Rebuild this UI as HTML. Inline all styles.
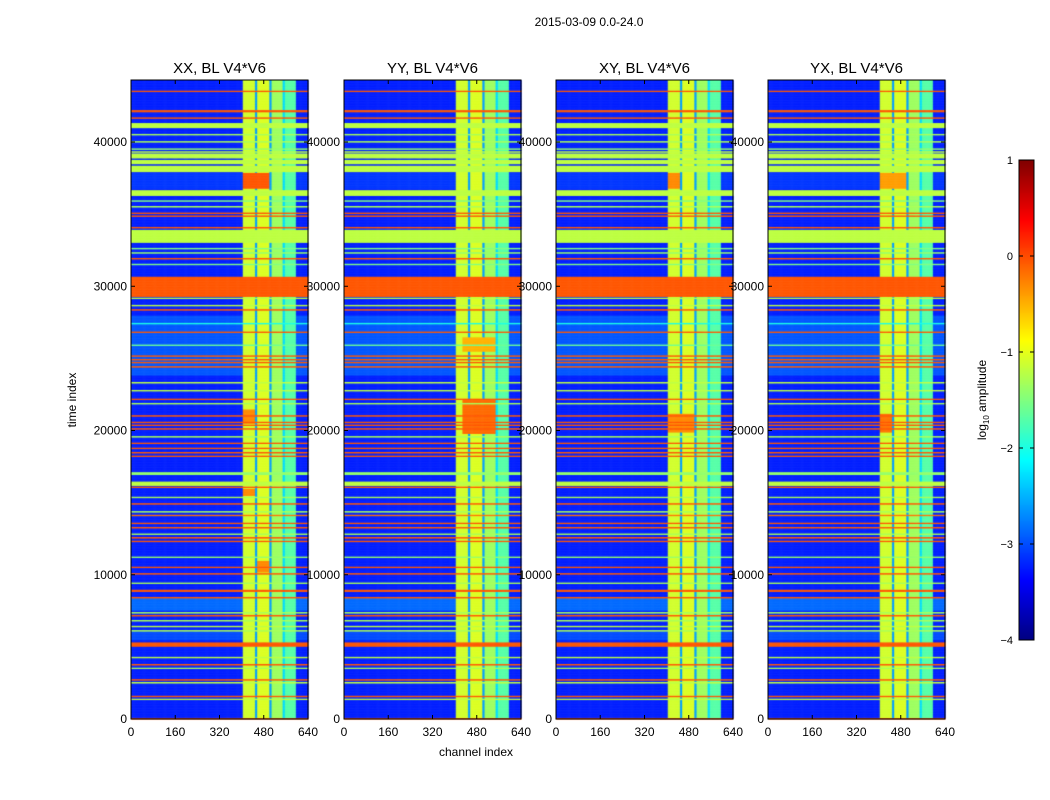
<!DOCTYPE html>
<html><head><meta charset="utf-8">
<style>
body{margin:0;background:#fff;font-family:"Liberation Sans",sans-serif;}
#wrap{position:relative;width:1050px;height:800px;overflow:hidden;background:#fff}
canvas{position:absolute}
svg{position:absolute;left:0;top:0}
text{font-family:"Liberation Sans",sans-serif;fill:#000}
</style></head><body>
<div id="wrap">
<canvas id="c" width="1050" height="800" style="left:0;top:0"></canvas>
<svg id="s" width="1050" height="800"></svg>
</div>
<script>
// ---- data ----
const panelTitles = ["XX, BL V4*V6","YY, BL V4*V6","XY, BL V4*V6","YX, BL V4*V6"];
const xTicks = [0,160,320,480,640];
const yTicks = [0,10000,20000,30000,40000];
const cbTicks = [1,0,-1,-2,-3,-4];
const tMax = 44300, chMax = 640;
// horizontal stripes: [tStart, tEnd, log10 amplitude]
const stripes = [
[43480,43600,-0.05],[42110,42230,-0.05],[41640,41760,-0.05],[41000,41340,-1.2],
[40500,40580,-1.3],[40000,40080,-1.3],[39500,39580,-1.4],[39300,39380,-1.2],
[38900,39250,-1.2],[38500,38820,-1.2],[37950,38400,-1.2],
[36300,36700,-1.2],[35900,35980,-1.5],[35500,35580,-1.3],[35060,35160,-0.05],[34860,34960,-0.05],
[34040,34160,-0.05],[33070,33970,-1.2],[32600,32680,-1.5],[32300,32380,-1.4],[31900,32020,-0.05],[31500,31580,-1.5],
[29320,30700,-0.05],[29140,29230,-1.2],[28650,28750,-1.2],[28370,28470,-0.05],
[27400,27500,-2.0],[26780,26880,-0.05],[25900,25980,-1.6],[25150,25250,-0.05],[24920,25020,-0.05],[24680,24780,-0.05],[24420,24520,-0.05],
[23310,23410,-1.2],[22750,22850,-1.2],[22130,22230,-0.05],
[21850,21950,-1.3],[21020,21120,-0.05],[20550,20650,-0.05],[20330,20430,-0.05],[20100,20200,-0.05],[19570,19670,-1.3],
[19080,19180,-0.05],[18740,18840,-0.05],[18450,18550,-0.05],[18180,18280,-0.05],[17070,17170,-1.4],[16930,17030,-1.4],
[16220,16500,-1.2],[16030,16130,-0.05],[15340,15440,-1.3],[14920,15020,-0.05],[14370,14470,-1.3],[14090,14190,-0.2],
[13540,13640,-0.05],[13260,13360,-0.05],[12780,12880,-1.3],[12570,12670,-0.05],[12290,12390,-0.05],[11180,11280,-1.4],
[10490,10590,-0.05],[10070,10170,-0.05],[9380,9480,-1.3],[8870,9010,-0.05],[8410,8510,-0.05],[7370,7470,-1.3],[7160,7260,-0.05],
[6810,6910,-1.3],[6400,6500,-1.2],[6120,6220,-1.3],[5060,5340,-0.05],[4250,4350,-1.2],[3760,3860,-0.05],[3490,3590,-1.3],
[2720,2820,-0.05],[2510,2610,-1.2],[1540,1640,-0.05],[1340,1440,-1.2],[0,120,-0.05]
];
// background regions: [tStart, tEnd, level]
const bgRegions = [[23850,28000,-2.95],[7560,8460,-2.85],[5500,6100,-3.0],[36800,37900,-3.1]];
const bgDefault = -3.22;
// band column segments: [chStart, chEnd, level]
const colSegments = [[405,448,-1.1],[448,456,-2.6],[456,502,-1.05],[502,510,-2.6],[510,550,-1.35],[550,558,-2.3],[558,597,-1.7]];
// hotspots: [panel, tStart, tEnd, chStart, chEnd, level]
const hotspots = [
[0,36800,37900,405,502,-0.05],[0,10200,11000,456,502,-0.3],[0,20500,21500,405,448,-0.3],[0,15500,16000,405,448,-0.3],
[1,19800,22200,430,550,-0.15],[1,25500,26500,430,550,-0.5],
[2,19900,21200,405,502,-0.3],[2,36800,37900,405,448,-0.3],
[3,19900,21200,405,448,-0.2],[3,36800,37900,405,502,-0.4]
];
// ---- layout ----
const panelX = [131,344,556,768], pW = 177, pTop = 80, pBot = 719;
const tToY = t => pBot - (t/tMax)*(pBot-pTop);
const chToX = (p,ch) => panelX[p] + ch/chMax*pW;

function jet(v){
  let f=(v+4)/5; f=Math.max(0,Math.min(1,f));
  const cl=x=>Math.max(0,Math.min(1,x));
  const r=cl(1.5-Math.abs(4*f-3)), g=cl(1.5-Math.abs(4*f-2)), b=cl(1.5-Math.abs(4*f-1));
  return `rgb(${Math.round(r*255)},${Math.round(g*255)},${Math.round(b*255)})`;
}
function value(p,t,ch){
  for(const s of stripes) if(t>=s[0]&&t<s[1]) return s[2];
  let base=bgDefault;
  for(const r of bgRegions) if(t>=r[0]&&t<r[1]) base=r[2];
  let c=null;
  for(const s of colSegments) if(ch>=s[0]&&ch<s[1]) c=s[2];
  if(c===null) return base;
  let v=c;
  for(const h of hotspots) if(h[0]===p&&t>=h[1]&&t<h[2]&&ch>=h[3]&&ch<h[4]) v=h[5];
  return v;
}
const ctx=document.getElementById('c').getContext('2d');
const tStep=50, chStep=4;
for(let p=0;p<4;p++){
  for(let t=0;t<tMax;t+=tStep){
    const y0=tToY(t+tStep), y1=tToY(t);
    for(let ch=0;ch<chMax;ch+=chStep){
      ctx.fillStyle=jet(value(p,t+tStep/2,ch+chStep/2));
      const x0=chToX(p,ch), x1=chToX(p,ch+chStep);
      ctx.fillRect(x0,y0,x1-x0+0.5,y1-y0+0.5);
    }
  }
}
// colorbar
const cbX=1019,cbW=15,cbTop=160,cbBot=640;
for(let y=cbTop;y<cbBot;y++){
  const v=1-(y-cbTop)/(cbBot-cbTop)*5;
  ctx.fillStyle=jet(v); ctx.fillRect(cbX,y,cbW,1);
}
// ---- svg ----
const svg=document.getElementById('s'), NS='http://www.w3.org/2000/svg';
function el(tag,attrs,txt){const e=document.createElementNS(NS,tag);for(const k in attrs)e.setAttribute(k,attrs[k]);if(txt!==undefined)e.textContent=txt;svg.appendChild(e);return e;}
let e;
e=el('text',{x:589,y:26,'text-anchor':'middle','font-size':12},'2015-03-09 0.0-24.0');


for(let p=0;p<4;p++){
  const x0=panelX[p];
  e=el('rect',{x:x0,y:pTop,width:pW,height:pBot-pTop,fill:'none',stroke:'#000','stroke-width':1});
  
  
  e=el('text',{x:x0+pW/2,y:73,'text-anchor':'middle','font-size':15},panelTitles[p]);
  
  
  for(const t of yTicks){
    const y=tToY(t);
    el('line',{x1:x0,x2:x0+4,y1:y,y2:y,stroke:'#000'});
    el('line',{x1:x0+pW-4,x2:x0+pW,y1:y,y2:y,stroke:'#000'});
    e=el('text',{x:x0-4,y:y+4,'text-anchor':'end','font-size':12},String(t));
    
    
  }
  for(const c of xTicks){
    const x=chToX(p,c);
    el('line',{x1:x,x2:x,y1:pBot,y2:pBot-4,stroke:'#000'});
    el('line',{x1:x,x2:x,y1:pTop,y2:pTop+4,stroke:'#000'});
    e=el('text',{x:x,y:736,'text-anchor':'middle','font-size':12},String(c));
    
    
  }
}
e=el('text',{x:476,y:756,'text-anchor':'middle','font-size':12},'channel index');


e=el('text',{x:0,y:0,'text-anchor':'middle','font-size':12,transform:'translate(76,400) rotate(-90)'},'time index');


e=el('rect',{x:cbX,y:cbTop,width:cbW,height:cbBot-cbTop,fill:'none',stroke:'#000'});


for(const v of cbTicks){
  const y=cbTop+(1-v)/5*(cbBot-cbTop);
  el('line',{x1:cbX,x2:cbX+4,y1:y,y2:y,stroke:'#000'});
  el('line',{x1:cbX+cbW-4,x2:cbX+cbW,y1:y,y2:y,stroke:'#000'});
  e=el('text',{x:1013,y:y+4,'text-anchor':'end','font-size':11},v<0?'\u2212'+(-v):String(v));
  
  
}
const lab=el('text',{x:0,y:0,'text-anchor':'middle','font-size':12,transform:'translate(986,400) rotate(-90)'});


lab.innerHTML='log<tspan font-size="8" dy="3">10</tspan><tspan dy="-3"> amplitude</tspan>';
</script>
</body></html>
